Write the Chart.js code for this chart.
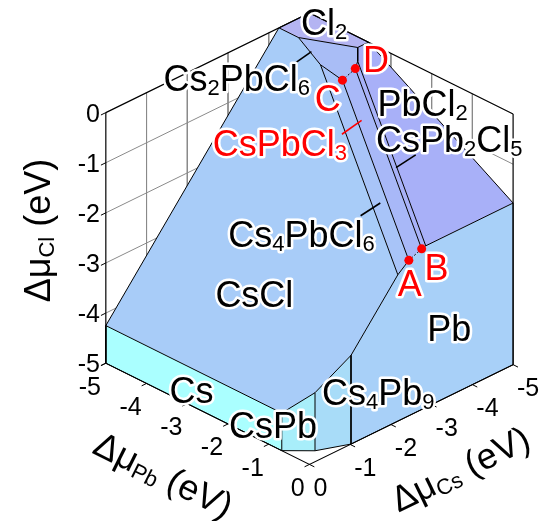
<!DOCTYPE html>
<html>
<head>
<meta charset="utf-8">
<title>Cs-Pb-Cl chemical potential diagram</title>
<script src="https://cdn.jsdelivr.net/npm/chart.js@4.4.1/dist/chart.umd.min.js"></script>
<style>
  html, body { margin: 0; padding: 0; background: #fff; }
  canvas { display: block; }
</style>
</head>
<body>
<canvas id="diagram" width="554" height="521"></canvas>
<script>
// Cs–Pb–Cl chemical potential diagram (Δμ in eV).
// Each phase is a plane nCs·μCs + nPb·μPb + nCl·μCl = ΔH; facets are clipped in 3D,
// projected, and drawn as filled scatter lines.

// Phases and formation energies
const PHASES = ['Cs', 'Pb', 'Cl2', 'CsPb', 'Cs4Pb9', 'CsCl', 'PbCl2', 'Cs4PbCl6', 'CsPbCl3', 'CsPb2Cl5', 'Cs2PbCl6'];
const N_CS   = [1, 0, 0, 1, 4, 1, 0, 4, 1, 1, 2];
const N_PB   = [0, 1, 0, 1, 9, 0, 1, 1, 1, 2, 1];
const N_CL   = [0, 0, 1, 0, 0, 1, 2, 6, 3, 5, 6];
const DH     = [0, 0, 0, -0.68, -4.08, -4.25, -3.55, -21.16, -8.14, -11.73, -13.02];
const COLORS = ['#aaffff', '#a8d0f8', '#b4b4f2', '#a8eefa', '#a8dcf8', '#a8ccf8',
                '#a8b0f8', '#a8c4f8', '#a8b8f8', '#a8b2f8', '#a9bdf6'];

const TICKS = [0, -1, -2, -3, -4, -5];
const MU_MIN = -5;

// corners of the CsPbCl3 stability region
const CORNERS = ['A', 'B', 'C', 'D'];
const CORNER_PHASES = [
  ['CsPbCl3', 'Cs4PbCl6', 'Pb'],
  ['CsPbCl3', 'CsPb2Cl5', 'Pb'],
  ['CsPbCl3', 'Cs4PbCl6', 'Cs2PbCl6'],
  ['CsPbCl3', 'CsPb2Cl5', 'Cs2PbCl6'],
];

// --- layout (px) ---
const W = 554, H = 521;
const VIEW = { ox: 310, oy: 468, pb: [41.4, 20.6], cs: [-41.4, 20.3], cl: 51 };
const FONT = '"Liberation Sans", Arial, sans-serif';

const PHASE_LABELS = [
  ['Cl_{2}', 325, 18, '#000'],
  ['Cs_{2}PbCl_{6}', 236, 75, '#000'],
  ['PbCl_{2}', 425, 100, '#000'],
  ['CsPb_{2}Cl_{5}', 452, 137, '#000'],
  ['CsPbCl_{3}', 280, 141, '#f00'],
  ['Cs_{4}PbCl_{6}', 302, 234, '#000'],
  ['CsCl', 254, 295, '#000'],
  ['Pb', 452, 329, '#000'],
  ['Cs', 190, 392, '#000'],
  ['CsPb', 273, 428, '#000'],
  ['Cs_{4}Pb_{9}', 380, 394, '#000'],
];
const LEADERS = [
  [295, 60, 312, 48, '#000'],
  [343, 132, 363, 118, '#f00'],
  [398, 166, 418, 153, '#000'],
  [362, 215, 382, 202, '#000'],
];
const CORNER_OFFSETS = [[1, 23], [15, 19], [-15, 18], [21, -10]];
const TITLES = [
  ['Δμ_{Cl} (eV)', 33, 230, -90],
  ['Δμ_{Pb} (eV)', 162, 478, 26.45],
  ['Δμ_{Cs} (eV)', 463, 472, -26.1],
];

// --- vector helpers, μ = [Cs, Pb, Cl] ---
const add = (a, b) => [a[0] + b[0], a[1] + b[1], a[2] + b[2]];
const sub = (a, b) => [a[0] - b[0], a[1] - b[1], a[2] - b[2]];
const mul = (a, s) => [a[0] * s, a[1] * s, a[2] * s];
const dot = (a, b) => a[0] * b[0] + a[1] * b[1] + a[2] * b[2];
const cross = (a, b) => [a[1] * b[2] - a[2] * b[1], a[2] * b[0] - a[0] * b[2], a[0] * b[1] - a[1] * b[0]];
const unit = a => mul(a, 1 / Math.hypot(a[0], a[1], a[2]));

function proj(m) {
  return {
    x: VIEW.ox + VIEW.pb[0] * m[1] + VIEW.cs[0] * m[0],
    y: VIEW.oy + VIEW.pb[1] * m[1] + VIEW.cs[1] * m[0] - VIEW.cl * (m[2] - MU_MIN),
  };
}

function det3(m) {
  return m[0][0] * (m[1][1] * m[2][2] - m[1][2] * m[2][1])
       - m[0][1] * (m[1][0] * m[2][2] - m[1][2] * m[2][0])
       + m[0][2] * (m[1][0] * m[2][1] - m[1][1] * m[2][0]);
}
function solve3(A, b) {
  const D = det3(A);
  return [0, 1, 2].map(c => det3(A.map((r, i) => r.map((v, j) => (j === c ? b[i] : v)))) / D);
}

// half-spaces n·μ <= h : phases plus the box floor μ >= -5
const planes = PHASES.map((p, i) => ({ n: [N_CS[i], N_PB[i], N_CL[i]], h: DH[i] }));
const limits = planes.concat([[-1, 0, 0], [0, -1, 0], [0, 0, -1]].map(n => ({ n, h: -MU_MIN })));

function clip(poly, q) {
  const out = [];
  const f = p => dot(q.n, p) - q.h;
  for (let k = 0; k < poly.length; k++) {
    const a = poly[k], b = poly[(k + 1) % poly.length];
    const fa = f(a), fb = f(b);
    if (fa <= 1e-9) out.push(a);
    if ((fa < 0 && fb > 0) || (fa > 0 && fb < 0)) out.push(add(a, mul(sub(b, a), fa / (fa - fb))));
  }
  return out;
}

function facet(i) {
  const { n, h } = planes[i];
  const p0 = mul(n, h / dot(n, n));
  const ref = Math.abs(unit(n)[0]) < 0.9 ? [1, 0, 0] : [0, 1, 0];
  const u = unit(cross(n, ref)), v = unit(cross(n, u));
  let poly = [[1, 1], [-1, 1], [-1, -1], [1, -1]].map(([s, t]) => add(p0, add(mul(u, 40 * s), mul(v, 40 * t))));
  limits.forEach((q, j) => { if (j !== i && poly.length) poly = clip(poly, q); });
  // drop repeated vertices
  poly = poly.filter((p, k) => {
    const nx = poly[(k + 1) % poly.length];
    return Math.hypot(...sub(p, nx)) > 1e-6;
  });
  return poly;
}

const facets = PHASES.map((p, i) => ({ i, poly: facet(i) })).filter(f => f.poly.length >= 3);

const corners = CORNER_PHASES.map(list => {
  const idx = list.map(name => PHASES.indexOf(name));
  return solve3(idx.map(i => planes[i].n), idx.map(i => planes[i].h));
});

// unique facet edges
const key = p => p.map(v => v.toFixed(3)).join(',');
const near = (a, b) => Math.hypot(...sub(a, b)) < 1e-5;
const edges = new Map();
facets.forEach(f => f.poly.forEach((a, k) => {
  const b = f.poly[(k + 1) % f.poly.length];
  const ka = key(a), kb = key(b);
  const id = ka < kb ? ka + '|' + kb : kb + '|' + ka;
  if (!edges.has(id)) edges.set(id, [a, b]);
}));
const isDotted = ([a, b]) => [[0, 1], [2, 3]].some(([i, j]) =>
  (near(a, corners[i]) && near(b, corners[j])) || (near(a, corners[j]) && near(b, corners[i])));

// back-wall grid, box edges, ticks
const grid = [];
TICKS.slice(1, 5).forEach(k => {
  grid.push([[k, MU_MIN, 0], [k, MU_MIN, MU_MIN]]);
  grid.push([[0, MU_MIN, k], [MU_MIN, MU_MIN, k]]);
  grid.push([[MU_MIN, k, 0], [MU_MIN, k, MU_MIN]]);
  grid.push([[MU_MIN, MU_MIN, k], [MU_MIN, 0, k]]);
});
const box = [
  [[0, MU_MIN, 0], [MU_MIN, MU_MIN, 0], [MU_MIN, 0, 0]],
  [[0, MU_MIN, 0], [0, MU_MIN, MU_MIN], [0, 0, MU_MIN], [MU_MIN, 0, MU_MIN], [MU_MIN, 0, 0]],
];
const ticks = [];
TICKS.forEach(k => {
  ticks.push([[0, MU_MIN, k], [0.12, MU_MIN, k]]);
  ticks.push([[0, k, MU_MIN], [0.12, k, MU_MIN]]);
  ticks.push([[k, 0, MU_MIN], [k, 0.12, MU_MIN]]);
});

const lineSet = (pts, color, width, order, dash) => ({
  data: pts.map(proj), showLine: true, fill: false, borderColor: color, borderWidth: width,
  borderDash: dash || [], pointRadius: 0, order,
});

const datasets = [];
grid.forEach(s => datasets.push(lineSet(s, '#8a8a8a', 1, 40)));
facets.forEach(f => {
  const pts = f.poly.concat([f.poly[0]]).map(proj);
  datasets.push({
    data: pts, showLine: true, fill: 'shape', backgroundColor: COLORS[f.i],
    borderColor: 'rgba(0,0,0,0)', borderWidth: 0, pointRadius: 0, order: 30,
  });
});
edges.forEach(e => datasets.push(lineSet(e, '#000', 1, 20, isDotted(e) ? [2, 2] : null)));
box.forEach(s => datasets.push(lineSet(s, '#000', 1.2, 10)));
ticks.forEach(s => datasets.push(lineSet(s, '#000', 1, 10)));
datasets.push({
  data: corners.map(proj), showLine: false, pointRadius: 4.5, pointBackgroundColor: '#f00',
  pointBorderWidth: 0, order: 0,
});

// rich text: "_{..}" is a subscript
function parts(s) {
  const out = [], re = /_\{([^}]*)\}|([^_]+)/g;
  let m;
  while ((m = re.exec(s))) out.push(m[1] !== undefined ? { t: m[1], sub: true } : { t: m[2], sub: false });
  return out;
}
function richText(ctx, s, x, y, size, color, halo, align) {
  const ps = parts(s);
  const big = size + 'px ' + FONT, small = Math.round(size * 0.61) + 'px ' + FONT;
  let w = 0;
  ps.forEach(p => { ctx.font = p.sub ? small : big; p.w = ctx.measureText(p.t).width; w += p.w; });
  const x0 = align === 'left' ? x : align === 'right' ? x - w : x - w / 2;
  const base = y + size * 0.358;
  ctx.textAlign = 'left';
  ctx.textBaseline = 'alphabetic';
  const pass = stroke => {
    let cx = x0;
    ps.forEach(p => {
      ctx.font = p.sub ? small : big;
      const yy = p.sub ? base + size * 0.11 : base;
      if (stroke) ctx.strokeText(p.t, cx, yy); else ctx.fillText(p.t, cx, yy);
      cx += p.w;
    });
  };
  if (halo) {
    ctx.lineWidth = halo; ctx.strokeStyle = '#fff'; ctx.lineJoin = 'round';
    pass(true);
  }
  ctx.fillStyle = color;
  pass(false);
}

const textPlugin = {
  id: 'diagramText',
  afterDatasetsDraw(chart) {
    const { ctx, scales: { x, y } } = chart;
    const px = (vx, vy) => [x.getPixelForValue(vx), y.getPixelForValue(vy)];
    ctx.save();

    LEADERS.forEach(([x1, y1, x2, y2, c]) => {
      const a = px(x1, y1), b = px(x2, y2);
      ctx.strokeStyle = c; ctx.lineWidth = 1.6;
      ctx.beginPath(); ctx.moveTo(a[0], a[1]); ctx.lineTo(b[0], b[1]); ctx.stroke();
    });

    PHASE_LABELS.forEach(([t, lx, ly, c]) => {
      const p = px(lx, ly);
      richText(ctx, t, p[0], p[1], 36, c, 5);
    });

    corners.forEach((m, k) => {
      const q = proj(m);
      const p = px(q.x + CORNER_OFFSETS[k][0], q.y + CORNER_OFFSETS[k][1]);
      richText(ctx, CORNERS[k], p[0], p[1], 36, '#f00', 5);
    });

    // tick labels
    TICKS.forEach(k => {
      const cl = proj([0, MU_MIN, k]);
      let p = px(cl.x - 6, cl.y);
      richText(ctx, String(k), p[0], p[1], 25, '#000', 0, 'right');
      const pb = proj([0, k, MU_MIN]);
      p = px(pb.x - 5, pb.y + 23);
      richText(ctx, String(k), p[0], p[1], 25, '#000', 0, 'right');
      const cs = proj([k, 0, MU_MIN]);
      p = px(cs.x + 4, cs.y + 23);
      richText(ctx, String(k), p[0], p[1], 25, '#000', 0, 'left');
    });

    TITLES.forEach(([t, tx, ty, ang]) => {
      const p = px(tx, ty);
      ctx.save();
      ctx.translate(p[0], p[1]);
      ctx.rotate(ang * Math.PI / 180);
      richText(ctx, t, 0, 0, 36, '#000', 0);
      ctx.restore();
    });

    ctx.restore();
  },
};

new Chart(document.getElementById('diagram'), {
  type: 'scatter',
  data: { datasets },
  options: {
    responsive: false,
    animation: false,
    devicePixelRatio: 1,
    events: [],
    layout: { padding: 0 },
    elements: { line: { tension: 0 } },
    scales: {
      x: { type: 'linear', min: 0, max: W, display: false },
      y: { type: 'linear', min: 0, max: H, reverse: true, display: false },
    },
    plugins: { legend: { display: false }, tooltip: { enabled: false } },
  },
  plugins: [textPlugin],
});
</script>
</body>
</html>
